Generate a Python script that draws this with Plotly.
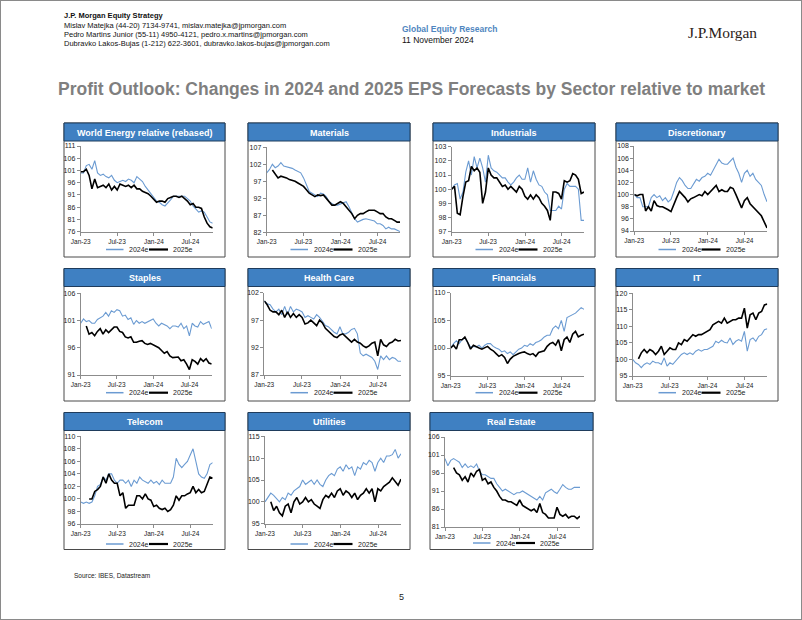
import plotly.graph_objects as go
import pandas as pd

W, H = 802, 620

# ---------------- data ----------------
dates = pd.date_range("2023-01-01", periods=48, freq="14D")
tick_vals = ["2023-01-01", "2023-07-01", "2024-01-01", "2024-07-01"]
tick_text = ["Jan-23", "Jul-23", "Jan-24", "Jul-24"]
series_names = ["2024e", "2025e"]

sector_titles = ["World Energy relative (rebased)", "Materials", "Industrials", "Discretionary",
                 "Staples", "Health Care", "Financials", "IT",
                 "Telecom", "Utilities", "Real Estate"]

energy_2024 = [100, 100, 103, 103.5, 101.5, 105, 100, 99, 99.5, 98.5,
               98, 99, 97, 96, 96.5, 97, 96.5, 97.5, 97, 96,
               98.5, 97.5, 96.5, 94.5, 93, 92, 90, 88.5, 88, 87,
               86.5, 88, 89, 90.5, 90.5, 90.5, 90.5, 90.5, 89.5, 88.5,
               86.5, 85, 84, 84.5, 84, 82, 80, 79.5]
energy_2025 = [100.5, 100.5, 101.5, 99, 93.5, 97.5, 94, 94.5, 95, 94,
               95.5, 93, 94.5, 93, 95.5, 95, 94.5, 95, 94, 95,
               93.5, 93.5, 92.5, 92, 91.5, 90.5, 89, 88, 88.5, 88.5,
               88, 89.5, 90, 90.5, 90.5, 90, 90.5, 89.5, 88.5, 87,
               87.5, 86, 86, 85.5, 82, 79.5, 78, 77.5]

materials_2024 = [99.5, 100.5, 102, 101, 101.5, 102.5, 101.5, 101.3, 101, 100.8,
                  100.3, 100, 99.5, 98, 96, 94, 93.5, 93, 92.5, 93.5,
                  93.3, 92.5, 91, 90.5, 90, 90, 90.3, 90.5, 91, 89.5,
                  87.5, 86, 85, 85.5, 85.8, 86, 85.8, 85.5, 85.3, 84.5,
                  84.5, 84, 83, 83.5, 83, 83, 82.5, 82.2]
materials_2025 = [None, None, 100.3, 99, 98, 98.5, 98.3, 98, 97.5, 97.3,
                  97, 96.5, 96, 95.5, 94.5, 93.5, 93, 92.5, 93, 92.8,
                  93, 92, 91, 90, 90, 90.5, 91, 90.5, 89.5, 88.5,
                  87.5, 86, 87, 87.5, 87.5, 88, 88.5, 88.5, 88.5, 88,
                  87.5, 87.5, 86.5, 86, 86, 85.5, 85, 85]

industrials_2024 = [100, 100.3, 100.4, 99.3, 99.8, 101.2, 102, 101, 102.3, 101.5,
                    102.2, 101.5, 100.5, 102.4, 101.5, 101.3, 101.2, 101, 100.8, 100.8,
                    100.5, 100.3, 100.5, 100.8, 101, 100.7, 100.7, 101.5, 100.5, 101.3,
                    100.7, 100.3, 100.2, 99.8, 99.6, 98.5, 98.5, 98.5, 98.8, 98.6,
                    100, 100.4, 100.2, 100.2, 100.2, 100, 97.8, 97.8]
industrials_2025 = [100, 100.2, 98.3, 98.2, 99.5, 100.5, 100.6, 101.6, 101.3, 101.5,
                    101.2, 99, 99.8, 101.5, 101, 100.8, 100.8, 100.5, 100.2, 100.3,
                    100, 100.2, 100, 99.8, 100.2, 100, 99.5, 99.3, 99.6, 99.3,
                    99.6, 99.4, 99, 98.8, 98.5, 97.8, 99.8, 99.8, 99.7, 99.3,
                    100.6, 100.5, 100.6, 101.1, 101, 100.7, 99.7, 99.8]

discretionary_2024 = [100, 99.5, 99.5, 98, 98, 98, 99.5, 100, 99.5, 99.8,
                      99, 99.5, 98.8, 99.2, 100.5, 102, 102.8, 102.3, 101.5, 101,
                      101, 101.8, 102.5, 102.2, 102.8, 103, 103.5, 103.2, 104, 104.8,
                      105.8, 105.2, 105, 105, 105.5, 106, 104.5, 103.5, 102, 103.5,
                      104, 103, 103.5, 102.5, 102, 101.5, 100, 98.8]
discretionary_2025 = [100, 99.8, 100, 100, 97.3, 98, 97.3, 99, 98.2, 98,
                      98, 97.8, 97.5, 97.2, 98.5, 99.5, 100.5, 100, 99.5, 98.8,
                      99.3, 99.5, 99.8, 100, 99.8, 100.5, 100, 100.5, 101, 101.5,
                      100.5, 100.8, 100.5, 100.5, 101.2, 101, 100, 99, 97.8, 99,
                      99.5, 98.5, 98, 97.5, 97, 96.5, 95.5, 94.5]

staples_2024 = [100.5, 101.3, 100.8, 101, 100.5, 100.5, 101.2, 101.5, 101.8, 102.5,
                101.8, 102.8, 102.5, 103, 102.8, 101.8, 102, 101.2, 101.5, 100.3,
                101, 100.5, 100.8, 100.5, 100.8, 101, 101.3, 100.5, 100, 100.5,
                100.2, 100, 99.5, 100, 100, 99.8, 100.5, 99.5, 100, 98.2,
                100.5, 100, 99.8, 100.8, 100.3, 100.5, 100.8, 99.5]
staples_2025 = [None, None, 100, 98.5, 98.8, 98.2, 99, 99.5, 98.5, 99.3,
                98.8, 99.3, 99.8, 99.8, 99, 98.8, 98, 97.8, 98, 97,
                97, 97.2, 97.3, 96.8, 96.6, 96.8, 96.5, 96.2, 96, 95.5,
                95, 95.3, 94.5, 94.2, 94.3, 94.3, 93.6, 93.8, 93, 92,
                93.8, 93.5, 93, 94, 93.5, 94, 93.2, 93]

healthcare_2024 = [100.5, 100, 99.8, 99, 98.5, 99, 98, 99.5, 98, 99.5,
                   98.5, 99, 98.8, 98.5, 97.5, 97.8, 97.5, 97.2, 98, 97.5,
                   96.8, 96, 95.8, 95.3, 94.8, 94.5, 95.8, 94.5, 94.5, 94.8,
                   95.3, 95.5, 94.5, 91, 90.5, 90.8, 90.5, 90.2, 89.5, 88,
                   90.5, 89.8, 90.5, 89.8, 90.2, 90, 89.5, 89.5]
healthcare_2025 = [100.5, 99.8, 98.8, 98.5, 98.5, 98, 98.8, 97.5, 98.5, 97.5,
                   98.2, 97.5, 98, 97.5, 96.3, 96.5, 97, 96.5, 96, 97,
                   96.5, 95.5, 95, 94.5, 94, 93.8, 94.3, 94.5, 94, 93.5,
                   93, 93.5, 93, 92.8, 92.3, 92, 92.3, 92.8, 93, 90.5,
                   93.5, 92.5, 92.2, 92.8, 93, 93.5, 93.2, 93.3]

financials_2024 = [100, 100.8, 101.3, 100.8, 101.5, 101.8, 101, 100.2, 100.3, 100.2,
                   100.5, 100, 100.5, 100.8, 100.8, 100.3, 100, 99.8, 99.3, 99.5,
                   99, 99.3, 98.8, 99.3, 99.8, 100, 100.5, 100.3, 100.8, 100.5,
                   101, 101.2, 101.5, 102, 102.3, 102.3, 103.5, 104, 103.5, 105,
                   103, 105.5, 105.8, 106, 106.3, 106.8, 107.3, 107]
financials_2025 = [100, 100.5, 99.8, 101.5, 101.5, 102, 101, 99.8, 100.5, 100.2,
                   100, 99.8, 100, 100.3, 99.8, 99.5, 99, 98.5, 98.8, 98.3,
                   97.2, 98, 98.5, 98.8, 99, 99.2, 99.3, 99, 98.8, 99,
                   98.5, 99.2, 99.3, 99.5, 100.3, 100.8, 101, 100.5, 101.5, 99.5,
                   101.5, 102, 101, 102.5, 103, 102, 102.3, 102.5]

it_2024 = [100, 99, 98.5, 97.5, 98.5, 99, 98.5, 99.5, 99, 99,
           98.5, 100.5, 98, 99, 98.5, 99.5, 100.5, 101.5, 102, 101.5,
           102, 101.5, 102.5, 103, 102.5, 103, 103, 103.5, 104, 105.5,
           105, 105.8, 105.2, 105, 106.5, 104.5, 105.5, 106, 105.5, 108.5,
           102.5, 106, 106.5, 105.5, 107, 107.5, 109, 109.3]
it_2025 = [None, None, 100.2, 102, 103, 102, 103, 102.5, 101.5, 102.5,
           104, 101.5, 102.5, 103.5, 103, 103, 105, 104.5, 106, 105.5,
           106.5, 107.5, 107, 107.5, 107.5, 108, 108.5, 109, 110.5, 111,
           111.5, 111, 112.5, 111, 111.5, 112, 112, 112.5, 112.5, 115.5,
           109.5, 113.5, 114, 112, 114, 114.5, 116.5, 116.8]

telecom_2024 = [99.5, 99.3, 99.5, 99.3, 99.5, 100.5, 102, 102.3, 103.5, 103,
                104, 104, 103, 102.5, 103, 103, 102.5, 103, 102, 103,
                102.5, 103.5, 103, 102.8, 102.5, 103, 102.5, 102.8, 102.3, 103,
                102.5, 102.5, 102.5, 103.5, 106.5, 105.5, 105, 105.5, 106, 107,
                108, 106, 104, 103.5, 103.3, 104, 105.5, 105.8]
telecom_2025 = [None, None, None, 100, 100, 101.2, 101.5, 102, 103.5, 102.5,
                104, 103, 102.5, 102.5, 100.5, 101, 98.5, 99, 99, 99,
                100.5, 100.5, 100, 100.8, 100, 99.8, 98.8, 99, 98.5, 98.3,
                98.5, 98, 98.3, 99, 100.5, 99.8, 100.5, 100.5, 100.8, 101,
                102, 101, 101.5, 101, 101.2, 102.5, 103.5, 103.3]

utilities_2024 = [100, 101, 102, 101.5, 100.8, 100, 101, 100.5, 102, 101.5,
                  102.5, 103, 103.5, 105, 104, 104.5, 105, 104, 105, 104,
                  103.5, 105, 106, 106.5, 106, 107.5, 108, 107, 108.5, 107.5,
                  108, 106, 108, 107.5, 109, 108.5, 109.5, 109, 107, 109,
                  110, 109, 110.5, 110.5, 110.8, 112, 110, 111]
utilities_2025 = [None, None, 100, 98, 99, 97.5, 96.8, 99, 99.5, 97.5,
                  100, 101, 99.5, 100, 101, 100, 100.5, 99.5, 99, 98.5,
                  100.5, 101.5, 101, 102, 101, 102.5, 103, 101.5, 102.5, 102,
                  101, 102, 100.5, 101.5, 102, 103, 102, 103, 100, 103,
                  102.5, 103.5, 104, 104.5, 105.5, 104.5, 103.8, 105.2]

realestate_2024 = [100, 98, 99.5, 100, 99.5, 99, 97.5, 98.5, 97.5, 98,
                   97.5, 98.5, 96.5, 95.5, 95.5, 95, 94.5, 94.5, 93, 92,
                   91, 91.5, 91, 90.5, 90, 90.5, 90.5, 91, 90.5, 90,
                   89.5, 89, 88.5, 89.5, 88.5, 90.5, 91, 91.5, 90.8, 90.3,
                   91.5, 92.8, 92, 91.5, 91.5, 92, 92, 92]
realestate_2025 = [None, None, None, 97.5, 96, 95.5, 94, 95, 93.5, 96,
                   95, 96.5, 97, 94, 94.5, 93, 93.5, 92, 91, 89.5,
                   88.5, 88.5, 88, 88, 87.5, 87, 88.5, 87, 86.5, 86,
                   85.5, 86, 85, 87.5, 85, 84.5, 83.5, 83.5, 83.5, 86.5,
                   84.5, 84, 84.5, 83.5, 84, 84, 83.3, 84]

sector_2024 = [energy_2024, materials_2024, industrials_2024, discretionary_2024,
               staples_2024, healthcare_2024, financials_2024, it_2024,
               telecom_2024, utilities_2024, realestate_2024]
sector_2025 = [energy_2025, materials_2025, industrials_2025, discretionary_2025,
               staples_2025, healthcare_2025, financials_2025, it_2025,
               telecom_2025, utilities_2025, realestate_2025]

y_min = [76, 82, 97, 94, 91, 87, 95, 95, 96, 95, 81]
y_max = [111, 107, 103, 108, 106, 102, 110, 120, 110, 115, 106]
y_step = [5, 5, 1, 2, 5, 5, 5, 5, 2, 5, 5]

for s in sector_2024 + sector_2025:
    assert len(s) == len(dates), len(s)

# ---------------- layout geometry (pixels) ----------------
# box_l, box_r, box_t, box_b, plot_l, plot_r, plot_t, plot_b, legend_y
geo = [
    (64, 225, 123, 257, 80.7, 212.7, 146, 231.7, 249.5),
    (248, 410, 123, 257, 266.7, 400, 147.3, 232.3, 249.5),
    (433, 595, 123, 257, 451.7, 584, 146.7, 231.7, 249.5),
    (616, 778, 123, 257, 634.3, 767, 146, 231, 249.5),
    (64, 225, 268.5, 401, 80.7, 211.7, 293.3, 375, 392.7),
    (248, 410, 268.5, 401, 264.3, 401, 292.7, 375, 392.7),
    (433, 595, 268.5, 401, 450.7, 584, 292.7, 375.7, 392.7),
    (616, 778, 268.5, 401, 632.7, 767.3, 293.3, 376, 392.7),
    (64, 225, 412.5, 549.5, 80.7, 212.7, 436.3, 524, 544),
    (248, 410, 412.5, 549.5, 265, 401, 436.3, 523.7, 544),
    (430, 593, 412.5, 549.5, 445, 580, 437, 527, 543),
]
BAR_H = 18

BLUE = "#6b9bd2"
BLACK = "#000000"
BAR_FILL = "#3f80c2"
BAR_LINE = "#1f3c5c"
FONT = "Arial, Liberation Sans, sans-serif"
series_colors = [BLUE, BLACK]
series_widths = [1.1, 1.6]
legend_widths = [1.5, 2.2]


def fx(x):
    return x / W


def fy(y):
    return 1 - y / H


fig = go.Figure()
layout = dict(width=W, height=H,
              margin=dict(l=0, r=0, t=0, b=0, pad=0, autoexpand=False),
              paper_bgcolor="white", plot_bgcolor="white",
              font=dict(family=FONT, size=7, color="#222222"),
              showlegend=False)
shapes = []
annotations = []

for k in range(11):
    bl, br, bt, bb, pl, pr, pt, pb, ly = geo[k]
    n = "" if k == 0 else str(k + 1)
    xa, ya = "x" + n, "y" + n
    for j, vals in enumerate([sector_2024[k], sector_2025[k]]):
        fig.add_trace(go.Scatter(x=dates, y=vals, mode="lines", name=series_names[j],
                                 line=dict(color=series_colors[j], width=series_widths[j]),
                                 xaxis=xa, yaxis=ya, hoverinfo="skip", showlegend=False))
    layout["xaxis" + n] = dict(domain=[fx(pl), fx(pr)], anchor=ya,
                               range=[dates[0], dates[-1]],
                               tickvals=tick_vals, ticktext=tick_text,
                               showline=True, linecolor="#8c8c8c", linewidth=1,
                               ticks="outside", ticklen=3, tickcolor="#8c8c8c",
                               tickfont=dict(size=6.5, color="#222222"),
                               showgrid=False, zeroline=False, fixedrange=True,
                               automargin=False)
    layout["yaxis" + n] = dict(domain=[fy(pb), fy(pt)], anchor=xa,
                               range=[y_min[k], y_max[k]],
                               tickmode="linear", tick0=y_min[k], dtick=y_step[k],
                               showline=True, linecolor="#8c8c8c", linewidth=1,
                               ticks="outside", ticklen=3, tickcolor="#8c8c8c",
                               tickfont=dict(size=7, color="#222222"),
                               showgrid=False, zeroline=False, fixedrange=True,
                               automargin=False)
    # outer box
    shapes.append(dict(type="rect", xref="paper", yref="paper",
                       x0=fx(bl), x1=fx(br), y0=fy(bb), y1=fy(bt),
                       line=dict(color="#4a4a4a", width=1), fillcolor="rgba(0,0,0,0)",
                       layer="below"))
    # title bar
    shapes.append(dict(type="rect", xref="paper", yref="paper",
                       x0=fx(bl), x1=fx(br), y0=fy(bt + BAR_H), y1=fy(bt),
                       line=dict(color=BAR_LINE, width=1), fillcolor=BAR_FILL,
                       layer="below"))
    annotations.append(dict(text="<b>" + sector_titles[k] + "</b>", xref="paper", yref="paper",
                            x=fx((bl + br) / 2), y=fy(bt + BAR_H / 2 + 0.5),
                            xanchor="center", yanchor="middle", showarrow=False,
                            font=dict(size=9, color="white", family=FONT)))
    # legend (line sample + label per series)
    c = (bl + br) / 2 + 3.5
    leg_x = [(c - 42, c - 24.5, c - 21), (c + 1, c + 20, c + 23)]
    for j in range(2):
        x0, x1, xt = leg_x[j]
        shapes.append(dict(type="line", xref="paper", yref="paper",
                           x0=fx(x0), x1=fx(x1), y0=fy(ly), y1=fy(ly),
                           line=dict(color=series_colors[j], width=legend_widths[j])))
        annotations.append(dict(text=series_names[j], xref="paper", yref="paper",
                                x=fx(xt), y=fy(ly), xanchor="left", yanchor="middle",
                                showarrow=False, font=dict(size=7, color="#222222", family=FONT)))

# page border
shapes.append(dict(type="rect", xref="paper", yref="paper", x0=0, x1=1, y0=0, y1=1,
                   line=dict(color="#8a8a8a", width=2), layer="below"))

header_lines = [
    ("<b>J.P. Morgan Equity Strategy</b>", 16),
    ("Mislav Matejka (44-20) 7134-9741, mislav.matejka@jpmorgan.com", 25.7),
    ("Pedro Martins Junior (55-11) 4950-4121, pedro.x.martins@jpmorgan.com", 34.7),
    ("Dubravko Lakos-Bujas (1-212) 622-3601, dubravko.lakos-bujas@jpmorgan.com", 43.7),
]
for txt, yy in header_lines:
    annotations.append(dict(text=txt, xref="paper", yref="paper", x=fx(62), y=fy(yy),
                            xanchor="left", yanchor="middle", showarrow=False,
                            font=dict(size=7.5, color="#111111", family=FONT)))

annotations.append(dict(text="<b>Global Equity Research</b>", xref="paper", yref="paper",
                        x=fx(400), y=fy(28.7), xanchor="left", yanchor="middle", showarrow=False,
                        font=dict(size=8.5, color="#4f86c0", family=FONT)))
annotations.append(dict(text="11 November 2024", xref="paper", yref="paper",
                        x=fx(400), y=fy(40), xanchor="left", yanchor="middle", showarrow=False,
                        font=dict(size=8.5, color="#111111", family=FONT)))
annotations.append(dict(text="J.P.Morgan", xref="paper", yref="paper",
                        x=fx(686), y=fy(32), xanchor="left", yanchor="middle", showarrow=False,
                        font=dict(size=15.4, color="#2b2118", family="Liberation Serif, DejaVu Serif, serif")))
annotations.append(dict(text="<b>Profit Outlook: Changes in 2024 and 2025 EPS Forecasts by Sector relative to market</b>",
                        xref="paper", yref="paper", x=fx(411), y=fy(89), xanchor="center", yanchor="middle",
                        showarrow=False, font=dict(size=17.5, color="#7f7f7f", family=FONT)))
annotations.append(dict(text="Source: IBES, Datastream", xref="paper", yref="paper",
                        x=fx(72), y=fy(575), xanchor="left", yanchor="middle", showarrow=False,
                        font=dict(size=6.5, color="#222222", family=FONT)))
annotations.append(dict(text="5", xref="paper", yref="paper",
                        x=fx(401), y=fy(597), xanchor="center", yanchor="middle", showarrow=False,
                        font=dict(size=9, color="#222222", family=FONT)))

layout["shapes"] = shapes
layout["annotations"] = annotations
fig.update_layout(**layout)
fig.write_html("out.html", config={"displayModeBar": False, "staticPlot": True},
               post_script="document.body.style.margin='0px';document.body.style.padding='0px';")
